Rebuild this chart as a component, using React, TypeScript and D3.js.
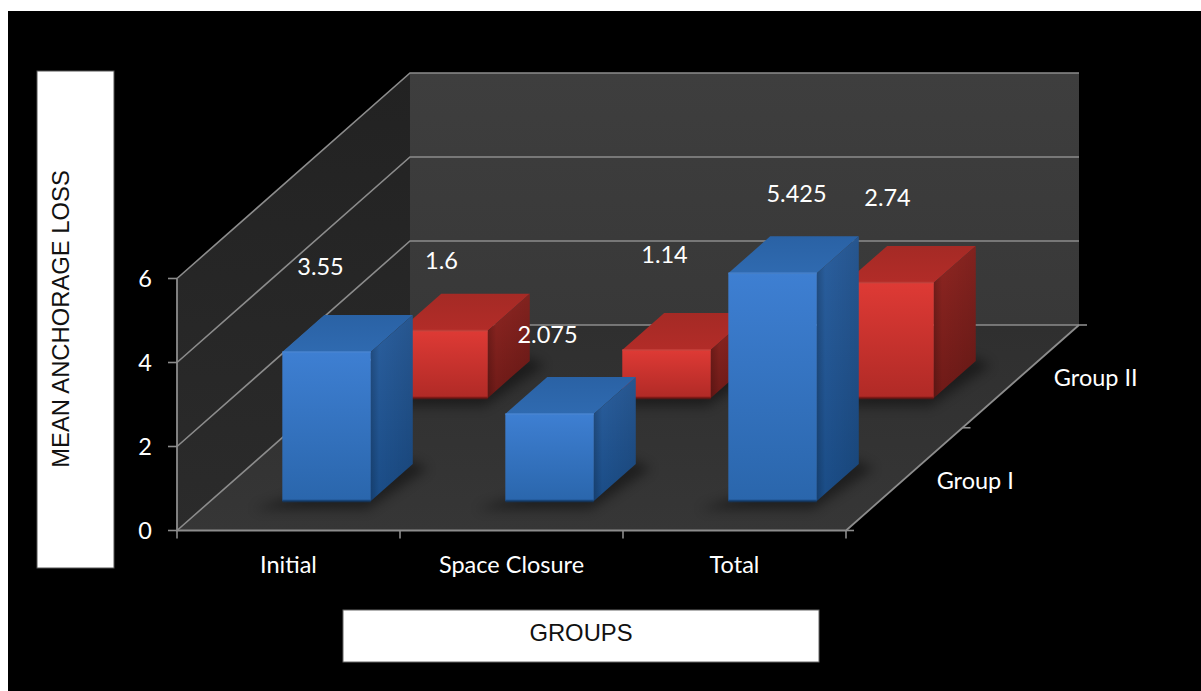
import React from "react";
import * as d3 from "d3";

const categories = ["Initial", "Space Closure", "Total"];
const seriesNames = ["Group I", "Group II"];
const groupOne = [3.55, 2.075, 5.425];
const groupTwo = [1.6, 1.14, 2.74];
const valueTicks = [0, 2, 4, 6];
const yTitle = "MEAN ANCHORAGE LOSS";
const xTitle = "GROUPS";
// Label nudges from the top-back-centre of each bar, in pixels.
const nudgeOne: [number, number][] = [[-48, -46], [-44, -40], [-18, -40]];
const nudgeTwo: [number, number][] = [[-44, -31], [-44, -56], [-44, -46]];

const W = 1201;
const H = 691;
const label = "Lato, 'Open Sans', sans-serif";
const titleFont = "'Liberation Sans', Arial, sans-serif";
const LABEL_SIZE = 23.5;

const xCat = d3.scaleLinear().domain([0, categories.length]).range([177, 846]);
const yVal = d3.scaleLinear().domain([0, 6]).range([0, -252]);
const depthX = d3.scaleLinear().domain([0, 1]).range([0, 233]);
const depthY = d3.scaleLinear().domain([0, 1]).range([0, -205.5]);
const BASE_Y = 530.5;

// Oblique projection: horizontal position, depth fraction, value.
type Pt = [number, number];
const proj = (x: number, t: number, v: number): Pt => [
  x + depthX(t),
  BASE_Y + depthY(t) + yVal(v),
];
const path = (pts: Pt[]) => (d3.line()(pts) ?? "") + "Z";

const X0 = xCat(0);
const X1 = xCat(categories.length);
const BAR_W = 88.5;
const BAR_DEPTH = 0.18;
const groupDepth = [0.143, 0.645];
const barOffset = 72; // from the left edge of a category slot to the bar

function Bar({ cat, value, t, hue }: { cat: number; value: number; t: number; hue: string }) {
  const l = xCat(cat) + barOffset;
  const r = l + BAR_W;
  const t2 = t + BAR_DEPTH;
  const dark = hue === "blue" ? "#123a68" : "#6e1512";
  const bright = hue === "blue" ? "#4a86d2" : "#c8443e";
  return (
    <g>
      {/* Contact shadow on the floor */}
      <path
        d={path([
          proj(l - 20, t - 0.04, 0),
          proj(r + 6, t - 0.04, 0),
          proj(r + 20, t2 - 0.02, 0),
          proj(r - 8, t2 + 0.02, 0),
        ])}
        fill="#000"
        opacity={0.42}
        filter="url(#soft)"
      />
      <path d={path([proj(l, t2, value), proj(r, t2, value), proj(r, t, value), proj(l, t, value)])} fill={`url(#${hue}Top)`} />
      <path d={path([proj(r, t, 0), proj(r, t2, 0), proj(r, t2, value), proj(r, t, value)])} fill={`url(#${hue}Side)`} />
      <path d={path([proj(r, t, 0), proj(r, t2, 0), proj(r, t2, value), proj(r, t, value)])} fill="url(#sideShade)" />
      <path d={path([proj(l, t, 0), proj(r, t, 0), proj(r, t, value), proj(l, t, value)])} fill={`url(#${hue}Front)`} />
      {/* Soft bevels along the top-front edge and the foot */}
      <path d={d3.line()([proj(l, t, value), proj(r, t, value)]) ?? ""} stroke={bright} strokeWidth={2} opacity={0.7} />
      <path d={d3.line()([proj(l, t, 0), proj(r, t, 0)]) ?? ""} stroke={dark} strokeWidth={2.5} opacity={0.75} />
    </g>
  );
}

function BarLabel({ cat, value, t, nudge }: { cat: number; value: number; t: number; nudge: Pt }) {
  const l = xCat(cat) + barOffset;
  const [x, y] = proj(l + BAR_W / 2, t + BAR_DEPTH, value);
  return (
    <text x={x + nudge[0]} y={y + nudge[1]} fill="#fff" fontFamily={label} fontSize={LABEL_SIZE} textAnchor="middle" dominantBaseline="middle">
      {value}
    </text>
  );
}

function Stops({ id, a, b, horizontal }: { id: string; a: string; b: string; horizontal?: boolean }) {
  return (
    <linearGradient id={id} x1="0" y1="0" x2={horizontal ? "1" : "0"} y2={horizontal ? "0" : "1"}>
      <stop offset="0" stopColor={a} />
      <stop offset="1" stopColor={b} />
    </linearGradient>
  );
}

export default function App() {
  const grid = "#8c8c8c";
  return (
    <svg width={W} height={H} viewBox={`0 0 ${W} ${H}`} style={{ position: "absolute", left: 0, top: 0, background: "#fff" }}>
      <defs>
        <filter id="soft" x="-30%" y="-30%" width="160%" height="160%">
          <feGaussianBlur stdDeviation="6" />
        </filter>
        <Stops id="blueFront" a="#3e7fd2" b="#2a66ac" />
        <Stops id="blueSide" a="#2b5f9e" b="#1a4c86" />
        <Stops id="blueTop" a="#2a62a5" b="#2f6ab0" />
        <Stops id="redFront" a="#de3a35" b="#b02a26" />
        <Stops id="redSide" a="#8f2622" b="#6e1a17" />
        <Stops id="redTop" a="#a52a25" b="#b22c28" />
        <Stops id="wallBack" a="#3e3e3e" b="#383838" />
        <Stops id="wallSide" a="#222222" b="#2b2b2b" />
        <Stops id="floor" a="#2f2f2f" b="#363636" />
        <linearGradient id="sideShade" x1="0" y1="0" x2="1" y2="0">
          <stop offset="0" stopColor="#000" stopOpacity={0.18} />
          <stop offset="0.2" stopColor="#000" stopOpacity={0} />
          <stop offset="1" stopColor="#000" stopOpacity={0.1} />
        </linearGradient>
      </defs>

      <rect x={8} y={11} width={W - 8} height={H - 11} fill="#000" />

      {/* Chart walls and floor */}
      <path d={path([proj(X0, 1, 0), proj(X1, 1, 0), proj(X1, 1, 6), proj(X0, 1, 6)])} fill="url(#wallBack)" />
      <path d={path([proj(X0, 0, 0), proj(X0, 1, 0), proj(X0, 1, 6), proj(X0, 0, 6)])} fill="url(#wallSide)" />
      <path d={path([proj(X0, 0, 0), proj(X1, 0, 0), proj(X1, 1, 0), proj(X0, 1, 0)])} fill="url(#floor)" />

      {/* Gridlines across the back and side walls */}
      {valueTicks.map((v) => (
        <path
          key={v}
          d={d3.line()([proj(X0, 0, v), proj(X0, 1, v), proj(X1, 1, v)]) ?? ""}
          fill="none"
          stroke={grid}
          strokeWidth={1.6}
        />
      ))}

      {/* Axes */}
      <path d={d3.line()([proj(X0, 0, 6), proj(X0, 0, 0), proj(X1, 0, 0), proj(X1, 1, 0)]) ?? ""} fill="none" stroke={grid} strokeWidth={1.8} />
      {valueTicks.map((v) => {
        const [x, y] = proj(X0, 0, v);
        return (
          <g key={v}>
            <line x1={x - 9} x2={x} y1={y} y2={y} stroke={grid} strokeWidth={1.6} />
            <text x={x - 32} y={y + 3} fill="#fff" fontFamily={label} fontSize={LABEL_SIZE} textAnchor="middle" dominantBaseline="middle">
              {v}
            </text>
          </g>
        );
      })}
      {d3.range(categories.length + 1).map((i) => (
        <line key={i} x1={xCat(i)} x2={xCat(i)} y1={BASE_Y} y2={BASE_Y + 8} stroke={grid} strokeWidth={1.6} />
      ))}
      {[0, 0.5, 1].map((t) => {
        const [x, y] = proj(X1, t, 0);
        return <line key={t} x1={x} x2={x + 8} y1={y} y2={y} stroke={grid} strokeWidth={1.6} />;
      })}
      {categories.map((c, i) => (
        <text key={c} x={(xCat(i) + xCat(i + 1)) / 2} y={567} fill="#fff" fontFamily={label} fontSize={LABEL_SIZE} textAnchor="middle" dominantBaseline="middle">
          {c}
        </text>
      ))}
      {seriesNames.map((s, i) => {
        const [x, y] = proj(X1, i * 0.5 + 0.25, 0);
        return (
          <text key={s} x={x + 71 + i * 4} y={y + 4} fill="#fff" fontFamily={label} fontSize={LABEL_SIZE} textAnchor="middle" dominantBaseline="middle">
            {s}
          </text>
        );
      })}

      {/* Bars, rear series first */}
      {groupTwo.map((v, i) => (
        <Bar key={i} cat={i} value={v} t={groupDepth[1]} hue="red" />
      ))}
      {groupOne.map((v, i) => (
        <Bar key={i} cat={i} value={v} t={groupDepth[0]} hue="blue" />
      ))}
      {groupTwo.map((v, i) => (
        <BarLabel key={i} cat={i} value={v} t={groupDepth[1]} nudge={nudgeTwo[i]} />
      ))}
      {groupOne.map((v, i) => (
        <BarLabel key={i} cat={i} value={v} t={groupDepth[0]} nudge={nudgeOne[i]} />
      ))}

      {/* Axis title boxes */}
      <rect x={37} y={71} width={77} height={497} fill="#fff" stroke="#555" strokeWidth={1} />
      <text transform="translate(60,319) rotate(-90)" fill="#111" fontFamily={titleFont} fontSize={23.8} textAnchor="middle" dominantBaseline="central">
        {yTitle}
      </text>
      <rect x={343} y={610} width={476} height={52} fill="#fff" stroke="#666" strokeWidth={1} />
      <text x={581} y={632} fill="#111" fontFamily={titleFont} fontSize={23.8} textAnchor="middle" dominantBaseline="central">
        {xTitle}
      </text>
    </svg>
  );
}
